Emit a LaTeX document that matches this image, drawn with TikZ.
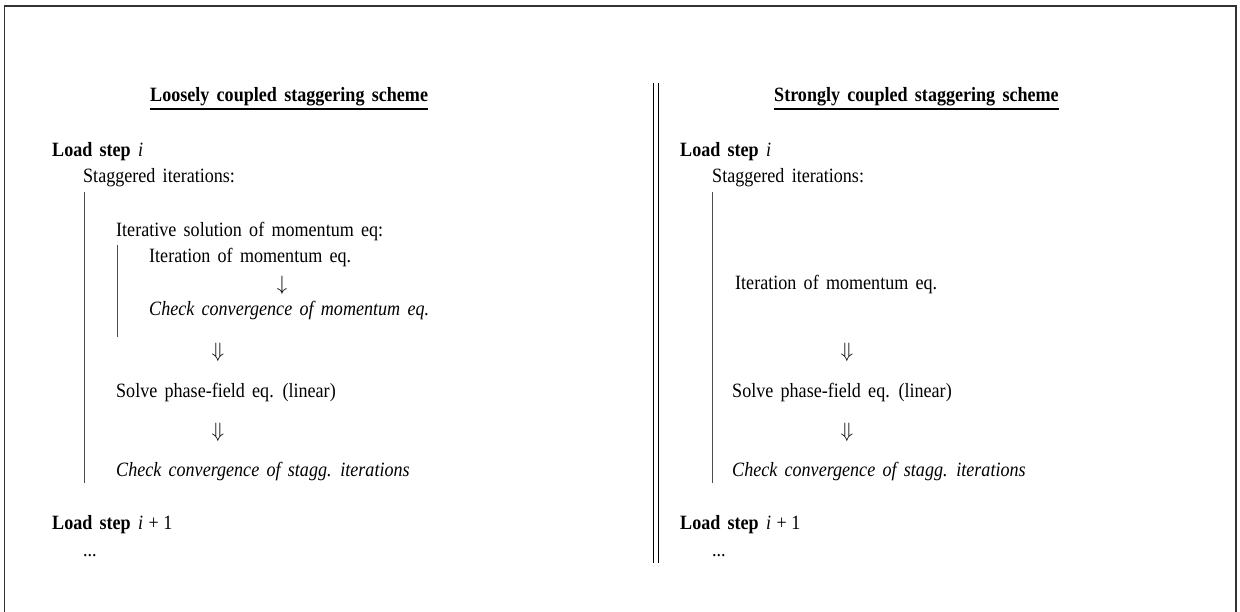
\documentclass[tikz,border=0pt]{standalone}
\usepackage{fontspec}
\setmainfont[FakeStretch=0.89]{Liberation Serif}
\newcommand\myfs{\fontsize{20.3}{24}\selectfont\spaceskip=7.3pt plus 1pt minus 1pt\relax}
\newcommand\myplus{\kern5.5pt+\kern4.5pt 1}
\tikzset{
  txt/.style={anchor=base west, inner sep=0pt, font=\myfs},
  ttl/.style={txt, font=\myfs\bfseries},
  arr/.style={anchor=center, inner sep=0pt, font=\fontsize{21}{24}\selectfont},
  frame/.style={draw=black!80, line width=1.4pt},
  bar/.style={draw=black!70, line width=0.9pt},
  sep/.style={draw=black, line width=0.8pt},
  uline/.style={draw=black, line width=1.2pt}
}
\begin{document}
\begin{tikzpicture}[x=1pt,y=-1pt]
\useasboundingbox (0,0) rectangle (1240,612);
\clip (0,0) rectangle (1240,612);
\draw[frame] (4.5,620) -- (4.5,6) -- (1236,6) -- (1236,620);
% separator
\draw[sep] (653.5,83) -- (653.5,563);
\draw[sep] (658.5,83) -- (658.5,563);
% ---------- left panel ----------
\node[ttl] (lt) at (150,102) {Loosely coupled staggering scheme};
\draw[uline] ([yshift=-7pt]lt.base west) -- ([yshift=-7pt]lt.base east);
\node[txt] (l1) at (52,157) {\textbf{Load step} \textit{i}};
\node[txt] (l2) at (83,183) {Staggered iterations:};
\node[txt] (l3) at (116,237) {Iterative solution of momentum eq:};
\node[txt] (l4) at (149,263) {Iteration of momentum eq.};
\node[arr] (la1) at (282,285) {$\downarrow$};
\node[txt] (l5) at (149,316) {\textit{Check convergence of momentum eq.}};
\node[arr] (la2) at (218,352) {$\Downarrow$};
\node[txt] (l6) at (116,397) {Solve phase-field eq. (linear)};
\node[arr] (la3) at (218,432) {$\Downarrow$};
\node[txt] (l7) at (116,476) {\textit{Check convergence of stagg. iterations}};
\node[txt] (l8) at (52,529) {\textbf{Load step} \textit{i}\myplus};
\node[txt] (l9) at (83,556) {...};
\draw[bar] (84,192) -- (84,483);
\draw[bar] (117,245) -- (117,337);
% ---------- right panel ----------
\node[ttl] (rt) at (774,102) {Strongly coupled staggering scheme};
\draw[uline] ([yshift=-7pt]rt.base west) -- ([yshift=-7pt]rt.base east);
\node[txt] (r1) at (680,157) {\textbf{Load step} \textit{i}};
\node[txt] (r2) at (712,183) {Staggered iterations:};
\node[txt] (r4) at (735,290) {Iteration of momentum eq.};
\node[arr] (ra2) at (847,352) {$\Downarrow$};
\node[txt] (r6) at (732,397) {Solve phase-field eq. (linear)};
\node[arr] (ra3) at (847,432) {$\Downarrow$};
\node[txt] (r7) at (732,476) {\textit{Check convergence of stagg. iterations}};
\node[txt] (r8) at (680,529) {\textbf{Load step} \textit{i}\myplus};
\node[txt] (r9) at (712,556) {...};
\draw[bar] (712,192) -- (712,483);
\end{tikzpicture}
\end{document}
